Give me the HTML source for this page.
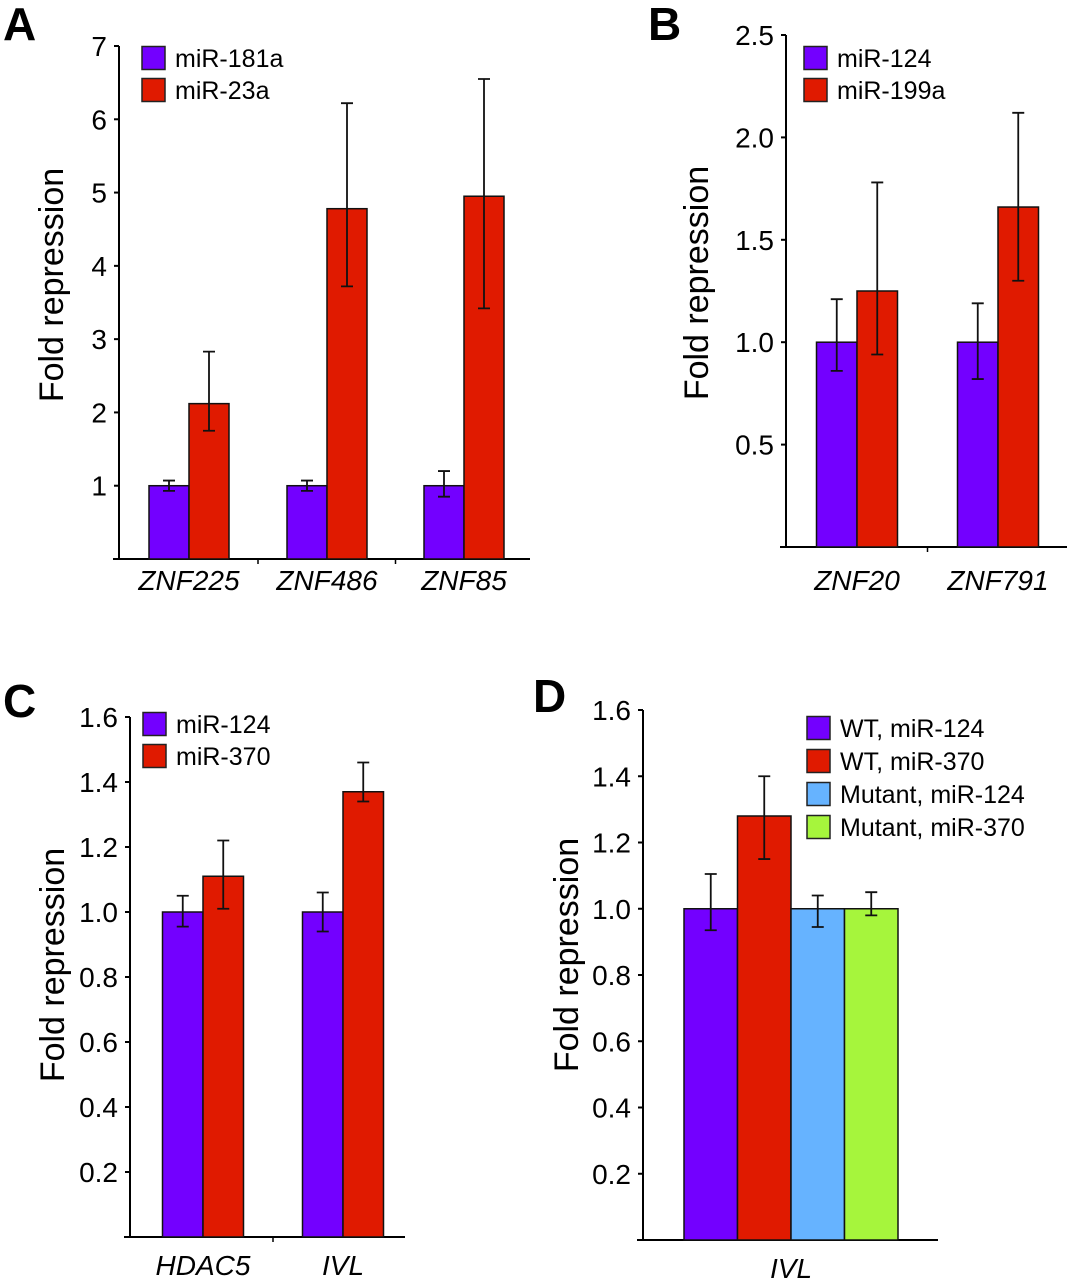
<!DOCTYPE html>
<html><head><meta charset="utf-8"><style>
html,body{margin:0;padding:0;background:#fff;}
svg{display:block;font-family:"Liberation Sans",Arial,sans-serif;}
</style></head><body>
<svg id="chart" width="1073" height="1280" viewBox="0 0 1073 1280" xmlns="http://www.w3.org/2000/svg"></svg>
<script>
// ---- Panel A data ----
const catsA = ["ZNF225", "ZNF486", "ZNF85"];
const seriesA = ["miR-181a", "miR-23a"];
const valsA1 = [1.0, 1.0, 1.0];
const lowA1 = [0.93, 0.93, 0.85];
const highA1 = [1.07, 1.07, 1.2];
const valsA2 = [2.12, 4.78, 4.95];
const lowA2 = [1.75, 3.72, 3.42];
const highA2 = [2.83, 6.22, 6.55];
const ticksA = ["1", "2", "3", "4", "5", "6", "7"];
// ---- Panel B data ----
const catsB = ["ZNF20", "ZNF791"];
const seriesB = ["miR-124", "miR-199a"];
const valsB1 = [1.0, 1.0];
const lowB1 = [0.86, 0.82];
const highB1 = [1.21, 1.19];
const valsB2 = [1.25, 1.66];
const lowB2 = [0.94, 1.3];
const highB2 = [1.78, 2.12];
const ticksB = ["0.5", "1.0", "1.5", "2.0", "2.5"];
// ---- Panel C data ----
const catsC = ["HDAC5", "IVL"];
const seriesC = ["miR-124", "miR-370"];
const valsC1 = [1.0, 1.0];
const lowC1 = [0.955, 0.94];
const highC1 = [1.05, 1.06];
const valsC2 = [1.11, 1.37];
const lowC2 = [1.01, 1.34];
const highC2 = [1.22, 1.46];
const ticksC = ["0.2", "0.4", "0.6", "0.8", "1.0", "1.2", "1.4", "1.6"];
// ---- Panel D data ----
const catsD = ["IVL"];
const seriesD = ["WT, miR-124", "WT, miR-370", "Mutant, miR-124", "Mutant, miR-370"];
const valsD = [1.0, 1.28, 1.0, 1.0];
const lowD = [0.935, 1.15, 0.945, 0.98];
const highD = [1.105, 1.4, 1.04, 1.05];
const ticksD = ["0.2", "0.4", "0.6", "0.8", "1.0", "1.2", "1.4", "1.6"];

const NS = "http://www.w3.org/2000/svg";
const svg = document.getElementById("chart");
const COLORS = ["#7300ff", "#e01a00", "#66b3ff", "#a6f53c"];
function mk(tag, attrs, parent, text) {
  const e = document.createElementNS(NS, tag);
  for (const k in attrs) e.setAttribute(k, attrs[k]);
  if (text !== undefined) e.textContent = text;
  (parent || svg).appendChild(e);
  return e;
}

function panel(cfg) {
  const g = mk("g", {});
  
  
  const yScale = v => cfg.y0 - (v / cfg.ymax) * (cfg.y0 - cfg.yTop);
  const L = mk("text", {x: cfg.lx, y: cfg.ly, "font-size": 46, "font-weight": "bold"}, g, cfg.id);
  
  
  const ya = mk("line", {x1: cfg.x0, y1: cfg.yTop, x2: cfg.x0, y2: cfg.y0, stroke: "#000", "stroke-width": 2}, g);
  
  
  const xa = mk("line", {x1: cfg.x0 - 6, y1: cfg.y0, x2: cfg.xEnd, y2: cfg.y0, stroke: "#000", "stroke-width": 2}, g);
  
  
  cfg.ticks.forEach(t => {
    const y = yScale(parseFloat(t));
    mk("line", {x1: cfg.x0 - 5, y1: y, x2: cfg.x0, y2: y, stroke: "#000", "stroke-width": 2}, g);
    const tl = mk("text", {x: cfg.x0 - 12, y: y + 10, "font-size": 28, "text-anchor": "end"}, g, t);
    
    
  });
  const yt = mk("text", {x: 0, y: 0, "font-size": 34, "text-anchor": "middle",
    transform: "translate(" + cfg.tx + "," + cfg.ty + ") rotate(-90)"}, g, "Fold repression");
  
  
  const n = cfg.series.length;
  cfg.cats.forEach((c, i) => {
    const cx = cfg.catX(i);
    for (let s = 0; s < n; s++) {
      const v = cfg.vals[s][i];
      const x = cx - n * cfg.bw / 2 + s * cfg.bw;
      const r = mk("rect", {x: x, y: yScale(v), width: cfg.bw, height: cfg.y0 - yScale(v),
        fill: COLORS[s], stroke: "#111", "stroke-width": 1.5}, g);
      
      
      const ex = x + cfg.bw / 2;
      const lo = yScale(cfg.low[s][i]), hi = yScale(cfg.high[s][i]);
      const eb = mk("path", {d: "M" + ex + " " + lo + "V" + hi + "M" + (ex - 6) + " " + lo + "H" + (ex + 6) + "M" + (ex - 6) + " " + hi + "H" + (ex + 6),
        stroke: "#111", "stroke-width": 1.8, fill: "none"}, g);
      
      
    }
    const cl = mk("text", {x: cx, y: cfg.catY, "font-size": 28, "font-style": "italic", "text-anchor": "middle"}, g, c);
    
    
    if (i > 0) {
      const mx = (cfg.catX(i - 1) + cx) / 2;
      mk("line", {x1: mx, y1: cfg.y0, x2: mx, y2: cfg.y0 + 5, stroke: "#000", "stroke-width": 1.5}, g);
    }
  });
  cfg.series.forEach((s, k) => {
    const y = cfg.legY + k * cfg.legStep;
    const sw = mk("rect", {x: cfg.legX, y: y - 11.5, width: 23, height: 23, fill: COLORS[k], stroke: "#222", "stroke-width": 1.5}, g);
    
    
    const lt = mk("text", {x: cfg.legX + 33, y: y + 9, "font-size": 25}, g, s);
    
    
  });
}

panel({id: "A", lx: 3, ly: 40, x0: 119, y0: 559, yTop: 46, ymax: 7, xEnd: 530, ticks: ticksA,
  tx: 63, ty: 285, cats: catsA, series: seriesA, vals: [valsA1, valsA2], low: [lowA1, lowA2], high: [highA1, highA2],
  catX: i => [189, 327, 464][i], bw: 40, catY: 590, legX: 142, legY: 58, legStep: 32});
panel({id: "B", lx: 648, ly: 40, x0: 786, y0: 547, yTop: 35, ymax: 2.5, xEnd: 1067, ticks: ticksB,
  tx: 708, ty: 283, cats: catsB, series: seriesB, vals: [valsB1, valsB2], low: [lowB1, lowB2], high: [highB1, highB2],
  catX: i => [857, 998][i], bw: 40.5, catY: 590, legX: 804, legY: 58, legStep: 32});
panel({id: "C", lx: 3, ly: 717, x0: 130, y0: 1237, yTop: 717, ymax: 1.6, xEnd: 405, ticks: ticksC,
  tx: 64, ty: 965, cats: catsC, series: seriesC, vals: [valsC1, valsC2], low: [lowC1, lowC2], high: [highC1, highC2],
  catX: i => [203, 343][i], bw: 40.5, catY: 1275, legX: 143, legY: 724, legStep: 32});
panel({id: "D", lx: 533, ly: 712, x0: 643, y0: 1240, yTop: 710, ymax: 1.6, xEnd: 938, ticks: ticksD,
  tx: 578, ty: 955, cats: catsD, series: seriesD, vals: valsD.map(v => [v]), low: lowD.map(v => [v]), high: highD.map(v => [v]),
  catX: i => 791, bw: 53.5, catY: 1278, legX: 807, legY: 728, legStep: 33});
</script>
</body></html>
